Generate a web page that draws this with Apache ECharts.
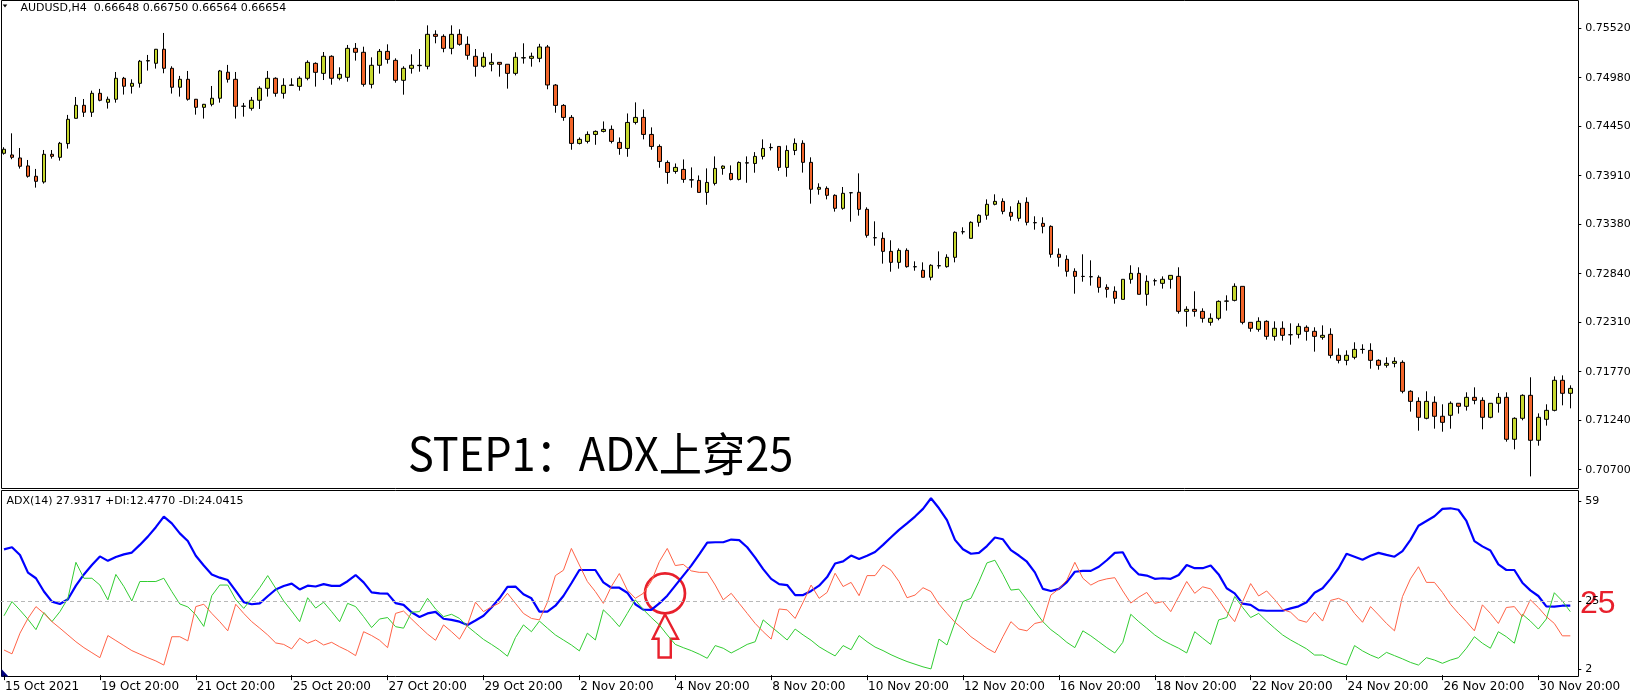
<!DOCTYPE html>
<html><head><meta charset="utf-8">
<script src="https://cdn.jsdelivr.net/npm/echarts@6/dist/echarts.min.js"></script>
<style>html,body{margin:0;padding:0;background:#fff;overflow:hidden}#c{width:1641px;height:696px}</style>
</head><body><div id="c"></div>
<script>
// ---- data ----
const opens = [0.74155,0.74137,0.74104,0.74017,0.73904,0.73842,0.74144,0.74111,0.74261,0.74537,
0.74679,0.74603,0.74810,0.74712,0.74745,0.74974,0.74887,0.74919,0.75163,0.75138,
0.75291,0.75083,0.74876,0.74963,0.74745,0.74657,0.74690,0.74756,0.75040,0.74963,
0.74668,0.74646,0.74734,0.74865,0.74974,0.74810,0.74897,0.74886,0.74974,0.75137,
0.75028,0.75214,0.74974,0.74985,0.75301,0.75258,0.74908,0.75116,0.75268,0.75170,
0.74952,0.75083,0.75112,0.75105,0.75454,0.75432,0.75301,0.75454,0.75345,0.75214,
0.75105,0.75127,0.75148,0.75127,0.75028,0.75196,0.75192,0.75192,0.75316,0.74900,
0.74678,0.74547,0.74263,0.74285,0.74361,0.74394,0.74416,0.74274,0.74208,0.74492,
0.74547,0.74361,0.74230,0.74055,0.73957,0.73979,0.73866,0.73859,0.73728,0.73826,
0.73990,0.73935,0.73870,0.74052,0.74044,0.74121,0.74216,0.74230,0.74001,0.74186,
0.74264,0.74056,0.73762,0.73772,0.73696,0.73554,0.73723,0.73729,0.73543,0.73232,
0.73226,0.73084,0.72964,0.73095,0.72917,0.72877,0.72801,0.72926,0.72917,0.73019,
0.73297,0.73226,0.73401,0.73478,0.73598,0.73630,0.73510,0.73445,0.73620,0.73398,
0.73390,0.73357,0.73052,0.72997,0.72866,0.72811,0.72808,0.72801,0.72691,0.72648,
0.72560,0.72779,0.72844,0.72615,0.72762,0.72735,0.72779,0.72811,0.72429,0.72451,
0.72429,0.72309,0.72353,0.72540,0.72549,0.72702,0.72309,0.72233,0.72320,0.72156,
0.72244,0.72173,0.72178,0.72255,0.72211,0.72145,0.72178,0.71949,0.71894,0.71927,
0.72013,0.72003,0.71894,0.71840,0.71861,0.71872,0.71556,0.71446,0.71261,0.71436,
0.71283,0.71294,0.71425,0.71392,0.71490,0.71457,0.71272,0.71425,0.71490,0.71032,
0.71261,0.71512,0.71021,0.71250,0.71348,0.71676,0.71534];
const closes = [0.74199,0.74111,0.74013,0.73904,0.73849,0.74144,0.74122,0.74264,0.74526,0.74679,
0.74603,0.74810,0.74734,0.74745,0.74974,0.74887,0.74919,0.75160,0.75167,0.75291,
0.75083,0.74876,0.74963,0.74745,0.74657,0.74690,0.74756,0.75054,0.74963,0.74668,
0.74670,0.74734,0.74865,0.74974,0.74810,0.74897,0.74901,0.74974,0.75148,0.75039,
0.75214,0.74974,0.75017,0.75301,0.75258,0.74908,0.75116,0.75268,0.75181,0.74952,
0.75083,0.75116,0.75116,0.75454,0.75432,0.75301,0.75454,0.75345,0.75225,0.75105,
0.75203,0.75148,0.75127,0.75028,0.75203,0.75199,0.75214,0.75316,0.74901,0.74678,
0.74547,0.74263,0.74307,0.74361,0.74394,0.74416,0.74285,0.74208,0.74492,0.74547,
0.74361,0.74230,0.74066,0.73946,0.74001,0.73870,0.73864,0.73728,0.73837,0.73990,
0.74015,0.73870,0.74055,0.74048,0.74121,0.74208,0.74219,0.74001,0.74186,0.74263,
0.74056,0.73762,0.73783,0.73696,0.73554,0.73718,0.73725,0.73543,0.73259,0.73234,
0.73084,0.72964,0.73095,0.72917,0.72915,0.72801,0.72932,0.72928,0.73019,0.73292,
0.73299,0.73401,0.73478,0.73598,0.73630,0.73521,0.73467,0.73609,0.73401,0.73396,
0.73357,0.73052,0.73019,0.72866,0.72811,0.72810,0.72806,0.72691,0.72670,0.72571,
0.72779,0.72844,0.72615,0.72757,0.72764,0.72779,0.72822,0.72429,0.72451,0.72429,
0.72353,0.72353,0.72538,0.72542,0.72702,0.72309,0.72244,0.72320,0.72156,0.72244,
0.72167,0.72174,0.72265,0.72211,0.72156,0.72167,0.71949,0.71894,0.71949,0.72014,
0.72014,0.71894,0.71840,0.71861,0.71883,0.71556,0.71446,0.71272,0.71446,0.71283,
0.71217,0.71425,0.71392,0.71490,0.71457,0.71272,0.71425,0.71490,0.71032,0.71261,
0.71512,0.71021,0.71272,0.71348,0.71676,0.71534,0.71588];
const lows = [0.74140,0.74090,0.73988,0.73889,0.73780,0.73824,0.74097,0.74075,0.74206,0.74534,
0.74552,0.74552,0.74723,0.74643,0.74708,0.74796,0.74807,0.74872,0.75058,0.75080,
0.75029,0.74807,0.74774,0.74730,0.74577,0.74534,0.74668,0.74708,0.74927,0.74534,
0.74555,0.74621,0.74639,0.74774,0.74773,0.74752,0.74897,0.74839,0.74952,0.74883,
0.74955,0.74904,0.74952,0.74937,0.75167,0.74883,0.74864,0.75025,0.75134,0.74926,
0.74795,0.75025,0.75046,0.75072,0.75356,0.75258,0.75236,0.75330,0.75177,0.74992,
0.75090,0.75050,0.74992,0.74861,0.75006,0.75134,0.75101,0.75150,0.74854,0.74598,
0.74510,0.74194,0.74252,0.74263,0.74248,0.74383,0.74263,0.74139,0.74117,0.74470,
0.74307,0.74194,0.73997,0.73822,0.73932,0.73833,0.73779,0.73728,0.73593,0.73804,
0.73921,0.73859,0.73859,0.73833,0.73943,0.74088,0.74186,0.73964,0.73899,0.74135,
0.73944,0.73605,0.73703,0.73652,0.73518,0.73539,0.73408,0.73474,0.73234,0.73146,
0.72950,0.72862,0.72895,0.72906,0.72873,0.72801,0.72768,0.72895,0.72906,0.72964,
0.73270,0.73226,0.73354,0.73430,0.73587,0.73489,0.73419,0.73412,0.73368,0.73321,
0.73281,0.73015,0.72917,0.72808,0.72622,0.72753,0.72710,0.72633,0.72579,0.72513,
0.72560,0.72731,0.72615,0.72491,0.72710,0.72677,0.72677,0.72404,0.72262,0.72371,
0.72306,0.72273,0.72331,0.72437,0.72538,0.72287,0.72207,0.72207,0.72120,0.72109,
0.72109,0.72065,0.72134,0.72109,0.71989,0.72120,0.71916,0.71861,0.71840,0.71905,
0.71967,0.71803,0.71792,0.71814,0.71818,0.71534,0.71334,0.71126,0.71250,0.71148,
0.71115,0.71148,0.71312,0.71345,0.71414,0.71141,0.71261,0.71323,0.71006,0.70922,
0.71239,0.70627,0.70962,0.71181,0.71337,0.71403,0.71370];
const highs = [0.74221,0.74373,0.74213,0.74082,0.73984,0.74191,0.74191,0.74279,0.74574,0.74770,
0.74748,0.74839,0.74858,0.74774,0.75043,0.74989,0.74963,0.75174,0.75229,0.75294,
0.75469,0.75105,0.75000,0.75054,0.74748,0.74694,0.74890,0.75065,0.75120,0.75043,
0.74705,0.74770,0.74887,0.75054,0.74985,0.74974,0.74974,0.74995,0.75170,0.75148,
0.75261,0.75225,0.75094,0.75338,0.75359,0.75319,0.75203,0.75294,0.75345,0.75192,
0.75105,0.75236,0.75294,0.75552,0.75498,0.75454,0.75552,0.75509,0.75432,0.75294,
0.75258,0.75247,0.75148,0.75127,0.75258,0.75356,0.75254,0.75350,0.75338,0.74911,
0.74692,0.74572,0.74328,0.74394,0.74405,0.74503,0.74459,0.74328,0.74590,0.74711,
0.74634,0.74438,0.74252,0.74077,0.74044,0.74088,0.74001,0.73913,0.73990,0.74121,
0.74023,0.74023,0.74066,0.74121,0.74168,0.74307,0.74263,0.74230,0.74241,0.74317,
0.74297,0.74111,0.73827,0.73794,0.73707,0.73787,0.73729,0.73936,0.73565,0.73412,
0.73292,0.73205,0.73117,0.73117,0.72975,0.72964,0.72943,0.73084,0.73052,0.73303,
0.73347,0.73412,0.73489,0.73652,0.73707,0.73663,0.73576,0.73641,0.73674,0.73467,
0.73456,0.73368,0.73117,0.73041,0.72899,0.73052,0.72986,0.72822,0.72724,0.72702,
0.72779,0.72932,0.72910,0.72822,0.72786,0.72811,0.72822,0.72910,0.72484,0.72648,
0.72462,0.72407,0.72549,0.72604,0.72735,0.72702,0.72309,0.72364,0.72331,0.72320,
0.72320,0.72298,0.72298,0.72276,0.72255,0.72276,0.72244,0.72025,0.72003,0.72091,
0.72069,0.72080,0.71905,0.71927,0.71927,0.71894,0.71567,0.71490,0.71556,0.71501,
0.71414,0.71446,0.71425,0.71545,0.71599,0.71490,0.71425,0.71537,0.71545,0.71272,
0.71523,0.71709,0.71315,0.71414,0.71719,0.71730,0.71621];
const adx = [42.6,43.3,40.7,34.7,32.8,28.3,24.9,24.1,25.7,30.3,34.1,37.3,40.2,38.7,40.0,40.9,41.5,44.1,46.9,50.1,
53.7,51.4,48.0,45.4,40.4,37.1,34.1,33.0,32.2,28.5,24.7,24.0,24.3,26.7,29.0,30.2,31.0,29.0,30.3,30.0,
30.8,30.2,30.2,31.8,33.9,31.4,28.0,27.7,27.6,24.4,
23.8,21.3,19.7,20.9,21.4,19.1,18.7,18.1,17.0,18.5,20.1,22.9,26.0,29.9,30.0,27.4,26.0,21.5,21.5,23.5,
26.8,31.1,35.6,35.6,35.6,31.4,29.6,29.6,27.9,24.0,22.2,22.1,24.3,26.9,30.3,33.7,37.1,40.9,44.9,45.0,
45.0,45.9,45.7,43.3,39.8,35.9,32.6,30.8,30.5,27.1,
27.1,28.5,30.3,33.2,37.8,38.5,40.5,39.3,40.4,41.7,44.1,46.7,49.2,51.4,53.7,56.3,59.9,56.5,52.5,45.8,
42.6,41.1,41.4,43.7,46.6,46.0,42.3,40.5,38.4,34.8,29.2,28.5,29.2,31.5,35.0,35.3,35.3,36.7,38.9,41.4,
41.6,36.7,34.1,33.7,32.6,32.8,32.6,33.9,37.3,36.2,
36.2,37.1,34.1,29.4,27.7,24.2,23.8,22.0,21.8,21.8,21.8,22.6,23.3,24.7,27.9,29.4,32.6,36.2,41.1,40.1,
39.1,40.4,41.4,40.7,40.1,42.0,45.8,50.6,52.2,53.8,56.3,56.5,56.0,52.2,45.4,43.6,42.2,37.5,35.6,35.6,
31.3,28.7,26.8,23.3,23.2,23.5,23.5];
const plusDI = [20.1,24.9,22.0,18.9,15.4,21.2,18.1,21.5,26.0,38.2,32.8,32.8,30.5,25.5,34.1,30.0,25.1,31.7,31.7,31.7,
32.8,28.3,24.1,23.1,20.4,16.5,26.9,30.5,30.5,25.6,22.6,26.0,29.6,33.7,29.4,25.1,21.7,18.1,26.2,22.7,
24.7,21.5,18.1,24.3,23.2,19.8,16.1,19.0,19.5,16.4,
15.9,21.3,21.5,26.0,22.4,19.8,20.6,19.2,16.5,14.3,12.1,10.4,8.6,6.4,12.7,17.0,14.7,18.3,15.9,13.6,
11.9,10.2,8.2,14.2,11.9,22.1,19.5,16.4,20.9,25.5,22.2,19.5,17.0,13.6,10.4,9.3,8.3,7.1,5.7,10.0,
9.1,7.5,8.9,10.4,11.3,18.7,16.4,14.2,11.9,15.6,
13.6,11.8,9.6,8.0,6.5,10.0,8.6,13.4,11.3,9.5,8.3,6.9,5.7,4.6,3.7,2.8,2.1,12.2,10.2,17.9,
24.9,26.0,31.7,38.0,38.9,34.1,28.8,29.1,25.5,21.7,18.1,15.4,13.4,11.1,9.3,15.0,13.3,11.3,9.3,7.5,
11.1,20.6,18.1,15.9,13.6,11.8,10.4,9.1,7.5,14.7,
12.5,10.4,18.7,19.5,26.6,22.9,19.5,20.9,18.3,15.9,13.6,11.9,10.4,8.9,6.8,6.8,5.5,4.3,3.4,10.0,
8.2,6.8,5.7,7.7,6.6,5.5,4.3,3.4,5.9,5.1,4.0,5.1,5.9,9.1,13.0,10.8,9.1,14.7,13.0,10.8,
20.6,18.3,15.6,19.0,27.9,25.1,21.5];
const minusDI = [8.5,7.2,14.2,19.2,23.2,20.9,18.1,15.9,13.6,11.3,9.3,7.6,5.9,13.4,11.7,10.0,8.3,7.1,5.9,4.8,
3.4,13.0,13.0,11.6,23.2,24.0,20.9,18.1,15.0,24.0,20.9,18.1,15.9,13.6,10.9,10.4,8.9,12.5,10.8,11.9,
10.2,11.1,9.6,8.3,6.6,14.7,13.4,11.8,9.3,20.9,
21.7,19.0,16.4,13.9,11.8,17.0,14.7,12.2,17.0,24.7,21.5,23.1,24.4,27.7,24.3,20.9,19.2,18.7,24.7,33.7,
35.5,42.9,37.3,31.7,28.3,24.3,30.0,34.4,28.8,26.0,27.7,31.7,38.4,42.9,37.1,37.5,35.3,34.8,34.8,30.5,
25.5,27.7,24.3,20.9,17.5,14.7,12.2,22.4,22.1,19.2,
24.7,30.5,26.0,28.0,34.5,30.0,31.4,26.9,33.7,33.7,37.3,35.5,31.7,26.2,27.1,29.6,28.3,24.0,20.9,17.9,
15.6,13.0,11.1,9.1,7.6,13.0,18.1,15.6,15.0,17.5,18.1,27.1,29.2,32.2,38.2,32.8,30.5,31.9,32.6,33.0,
28.5,24.4,26.4,28.0,24.3,24.9,21.5,26.6,31.7,27.7,
29.9,29.2,25.5,21.5,18.1,24.9,31.0,26.8,28.5,25.6,22.2,21.3,18.7,17.9,21.3,18.3,25.3,26.0,24.7,20.9,
17.9,23.2,20.4,17.5,15.0,26.6,32.6,36.7,31.4,31.4,28.0,24.0,20.9,18.1,15.0,23.8,20.9,17.5,22.9,23.2,
19.8,25.5,22.9,19.8,17.5,13.3,13.3];
const priceTicks = [0.70700,0.71240,0.71770,0.72310,0.72840,0.73380,0.73910,0.74450,0.74980,0.75520];
const adxTicks = [2,25,59];
const adxLevel = 25;
const tickLabels = ['15 Oct 2021','19 Oct 20:00','21 Oct 20:00','25 Oct 20:00','27 Oct 20:00','29 Oct 20:00',
'2 Nov 20:00','4 Nov 20:00','8 Nov 20:00','10 Nov 20:00','12 Nov 20:00','16 Nov 20:00','18 Nov 20:00',
'22 Nov 20:00','24 Nov 20:00','26 Nov 20:00','30 Nov 20:00'];
const tradingDays = ['15 Oct','18 Oct','19 Oct','20 Oct','21 Oct','22 Oct','25 Oct','26 Oct','27 Oct','28 Oct','29 Oct',
'1 Nov','2 Nov','3 Nov','4 Nov','5 Nov','8 Nov','9 Nov','10 Nov','11 Nov','12 Nov','15 Nov','16 Nov','17 Nov',
'18 Nov','19 Nov','22 Nov','23 Nov','24 Nov','25 Nov','26 Nov','29 Nov','30 Nov','1 Dec'];
const barHours = ['00:00','04:00','08:00','12:00','16:00','20:00'];
const headerText = 'AUDUSD,H4  0.66648 0.66750 0.66564 0.66654';
const adxHeader = 'ADX(14) 27.9317 +DI:12.4770 -DI:24.0415';
const titleText = 'STEP1：ADX上穿25';
const signalBar = 83;

// ---- build ----
const categories = [];
tradingDays.forEach((d, di) => barHours.forEach((h, hi) => { if (di > 0 || hi === 5) categories.push(d + ' ' + h); }));
categories.length = opens.length;
const candles = opens.map((o, i) => [o, closes[i], lows[i], highs[i]]);

const FONT = 'DejaVu Sans';
const RED = '#e8202c';
const chart = echarts.init(document.getElementById('c'), null, {renderer: 'canvas'});
const every12 = (i) => i % 12 === 0;

chart.setOption({
  animation: false,
  backgroundColor: '#ffffff',
  grid: [
    {left: -1.7, top: 1, width: 1576, height: 487},
    {left: -1.7, top: 490, width: 1576, height: 186}
  ],
  xAxis: [
    {type: 'category', gridIndex: 0, data: categories, boundaryGap: true, show: false},
    {type: 'category', gridIndex: 1, data: categories, boundaryGap: true,
     axisLine: {show: false},
     axisTick: {show: true, interval: every12, alignWithLabel: true, length: 5, lineStyle: {color: '#000'}},
     axisLabel: {interval: every12, formatter: (v, i) => tickLabels[i / 12] || '', align: 'left',
       color: '#000', fontFamily: FONT, fontSize: 12, margin: 5, padding: [0, 0, 0, 1]},
     splitLine: {show: false}}
  ],
  yAxis: [
    {type: 'value', gridIndex: 0, position: 'right', offset: 4, min: 0.70500, max: 0.75818,
     axisLine: {show: false},
     axisTick: {show: true, length: 3, lineStyle: {color: '#000'}, customValues: priceTicks},
     axisLabel: {customValues: priceTicks, formatter: (v) => v.toFixed(5), color: '#000', fontFamily: FONT, fontSize: 11, margin: 7},
     splitLine: {show: false}},
    {type: 'value', gridIndex: 1, position: 'right', offset: 4, min: -0.30, max: 62.69,
     axisLine: {show: false},
     axisTick: {show: true, length: 3, lineStyle: {color: '#000'}, customValues: adxTicks},
     axisLabel: {customValues: adxTicks, formatter: (v) => String(v), color: '#000', fontFamily: FONT, fontSize: 11, margin: 7},
     splitLine: {show: false}}
  ],
  series: [
    {type: 'candlestick', xAxisIndex: 0, yAxisIndex: 0, data: candles, barWidth: 4, silent: true,
     itemStyle: {color: '#c6d72e', color0: '#f2652a', borderColor: '#000', borderColor0: '#000', borderColorDoji: '#000', borderWidth: 1}},
    {type: 'line', name: 'ADX', xAxisIndex: 1, yAxisIndex: 1, data: adx, symbol: 'none', silent: true,
     lineStyle: {color: '#0000ff', width: 2.2},
     markLine: {silent: true, symbol: 'none', label: {show: false},
       lineStyle: {color: '#b8b8b8', type: [4, 3], width: 1}, data: [{yAxis: adxLevel}]}},
    {type: 'line', name: '+DI', xAxisIndex: 1, yAxisIndex: 1, data: plusDI, symbol: 'none', silent: true,
     lineStyle: {color: '#32cd32', width: 1}},
    {type: 'line', name: '-DI', xAxisIndex: 1, yAxisIndex: 1, data: minusDI, symbol: 'none', silent: true,
     lineStyle: {color: '#ff6347', width: 1}}
  ]
});

const p = chart.convertToPixel({xAxisIndex: 1, yAxisIndex: 1}, [signalBar, adxLevel]);
const cx = p[0] - 2.3, cy = p[1] - 8;
const tx = p[0] - 2.3, ty = p[1] + 13;

chart.setOption({
  graphic: [
    {type: 'rect', shape: {x: 1.5, y: 0.5, width: 1577, height: 488}, style: {fill: 'none', stroke: '#000', lineWidth: 1}, silent: true},
    {type: 'rect', shape: {x: 1.5, y: 490.5, width: 1577, height: 186}, style: {fill: 'none', stroke: '#000', lineWidth: 1}, silent: true},
    {type: 'polygon', shape: {points: [[2.7, 4.5], [7.3, 4.5], [5, 7.5]]}, style: {fill: '#000'}, silent: true},
    {type: 'text', x: 20.5, y: 8.5, style: {text: headerText, fill: '#000', font: '11px "DejaVu Sans"', textVerticalAlign: 'middle'}, silent: true},
    {type: 'text', x: 6.5, y: 501, style: {text: adxHeader, fill: '#000', font: '11px "DejaVu Sans"', textVerticalAlign: 'middle'}, silent: true},
    {type: 'polygon', shape: {points: [[1.5, 669], [1.5, 676.5], [8.5, 676.5]]}, style: {fill: '#000080'}, silent: true},
    {type: 'text', x: 408, y: 454, scaleX: 0.94, originX: 0, originY: 0,
     style: {text: titleText, fill: '#000', font: '46px "Noto Sans CJK SC"', textVerticalAlign: 'middle'}, silent: true},
    {type: 'text', x: 1580, y: 604.5, style: {text: '25', fill: RED, font: '32px "Liberation Sans"', textVerticalAlign: 'middle'}, silent: true},
    {type: 'circle', shape: {cx: cx, cy: cy, r: 20}, style: {fill: 'none', stroke: RED, lineWidth: 2.7}, silent: true},
    {type: 'polygon', shape: {points: [[tx, ty], [tx + 13, ty + 24.5], [tx + 5.8, ty + 24.5], [tx + 5.8, ty + 43.2],
      [tx - 6.4, ty + 43.2], [tx - 6.4, ty + 24.5], [tx - 12.2, ty + 24.5]]},
     style: {fill: 'none', stroke: RED, lineWidth: 2.4, lineJoin: 'miter'}, silent: true}
  ]
});
</script>
</body></html>
